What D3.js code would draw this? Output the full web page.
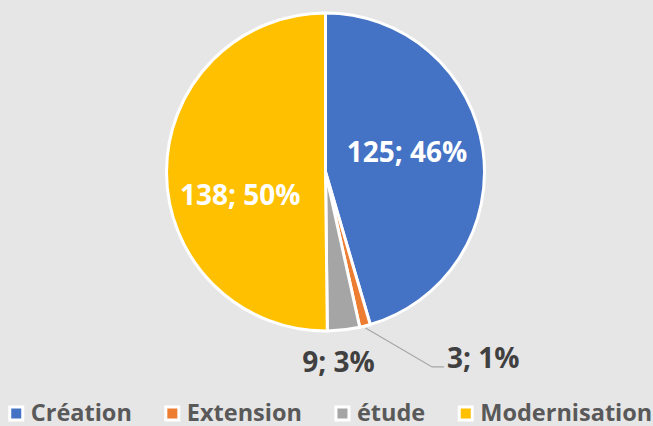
<!DOCTYPE html>
<html>
<head>
<meta charset="utf-8">
<script src="https://cdn.jsdelivr.net/npm/d3@7"></script>
<style>
  html, body { margin: 0; padding: 0; background: #e7e6e6; }
  svg { display: block; font-family: "Open Sans", "DejaVu Sans", sans-serif; }
</style>
</head>
<body>
<svg id="chart"></svg>
<script>
const categories = ["Création", "Extension", "étude", "Modernisation"];
const values = [125, 3, 9, 138];
const percents = ["46%", "1%", "3%", "50%"];
const colors = ["#4472c4", "#ed7d31", "#a5a5a5", "#ffc000"];

// label placement: inside labels for the big slices, outside for the small ones
const labelInside = [true, false, false, true];
const labelNudge = [[-2, -8], [110, 0], [-9, -1], [-1, 22]];

function drawChart() {
    const width = 653, height = 426;
    const cx = 325.5, cy = 172, r = 159;

    const svg = d3.select("#chart")
        .attr("width", width)
        .attr("height", height);

    svg.append("rect")
        .attr("width", width)
        .attr("height", height)
        .attr("fill", "#e7e6e6");

    const data = categories.map((c, i) => ({ name: c, value: values[i], pct: percents[i], i }));

    const pie = d3.pie().sort(null).value(d => d.value);
    const arcs = pie(data);

    const arc = d3.arc().innerRadius(0).outerRadius(r);
    const inLabelArc = d3.arc().innerRadius(r * 0.53).outerRadius(r * 0.53);
    const outLabelArc = d3.arc().innerRadius(r * 1.21).outerRadius(r * 1.21);
    const edgeArc = d3.arc().innerRadius(r + 2).outerRadius(r + 2);

    const g = svg.append("g").attr("transform", `translate(${cx},${cy})`);

    g.selectAll("path.slice")
        .data(arcs)
        .enter().append("path")
        .attr("class", "slice")
        .attr("d", arc)
        .attr("fill", d => colors[d.data.i])
        .attr("stroke", "#ffffff")
        .attr("stroke-width", 3)
        .attr("stroke-linejoin", "round");

    const labels = g.selectAll("text.lbl")
        .data(arcs)
        .enter().append("text")
        .attr("class", "lbl")
        .attr("text-anchor", "middle")
        .attr("dy", "0.36em")
        .style("font-size", "28px")
        .style("font-weight", "bold")
        .attr("fill", d => labelInside[d.data.i] ? "#ffffff" : "#404040")
        .attr("x", d => {
            const c = labelInside[d.data.i] ? inLabelArc.centroid(d) : outLabelArc.centroid(d);
            return c[0] + labelNudge[d.data.i][0];
        })
        .attr("y", d => {
            const c = labelInside[d.data.i] ? inLabelArc.centroid(d) : outLabelArc.centroid(d);
            return c[1] + labelNudge[d.data.i][1];
        })
        .text(d => `${d.data.value}; ${d.data.pct}`);

    // leader line for the tiny slice whose label sits far away
    labels.filter(d => d.data.i === 1).each(function(d) {
        const bb = this.getBBox();
        const start = edgeArc.centroid(d);
        const midY = bb.y + bb.height / 2 + 9.5;
        g.insert("polyline", "text")
            .attr("points", [start, [bb.x - 15, midY], [bb.x - 3, midY]].map(p => p.join(",")).join(" "))
            .attr("fill", "none")
            .attr("stroke", "#a6a6a6")
            .attr("stroke-width", 1.2);
    });

    // legend
    const legend = svg.append("g").attr("class", "legend");
    const markerSize = 13, markerGap = 8, itemGap = 34;
    const baseline = 421, markerCy = 413.5;

    const items = legend.selectAll("g.item")
        .data(data)
        .enter().append("g")
        .attr("class", "item");

    items.append("rect")
        .attr("width", markerSize)
        .attr("height", markerSize)
        .attr("y", markerCy - markerSize / 2)
        .attr("fill", d => colors[d.i])
        .attr("stroke", "#ffffff")
        .attr("stroke-width", 3);

    items.append("text")
        .attr("x", markerSize + markerGap)
        .attr("y", baseline)
        .style("font-size", "23.5px")
        .style("font-weight", "bold")
        .attr("fill", "#595959")
        .text(d => d.name);

    const widths = [];
    items.each(function() {
        widths.push(markerSize + markerGap + d3.select(this).select("text").node().getComputedTextLength());
    });
    const total = d3.sum(widths) + itemGap * (widths.length - 1);
    let x = 331 - total / 2;
    items.each(function(d, i) {
        d3.select(this).attr("transform", `translate(${x},0)`);
        x += widths[i] + itemGap;
    });
}

drawChart();
</script>
</body>
</html>
